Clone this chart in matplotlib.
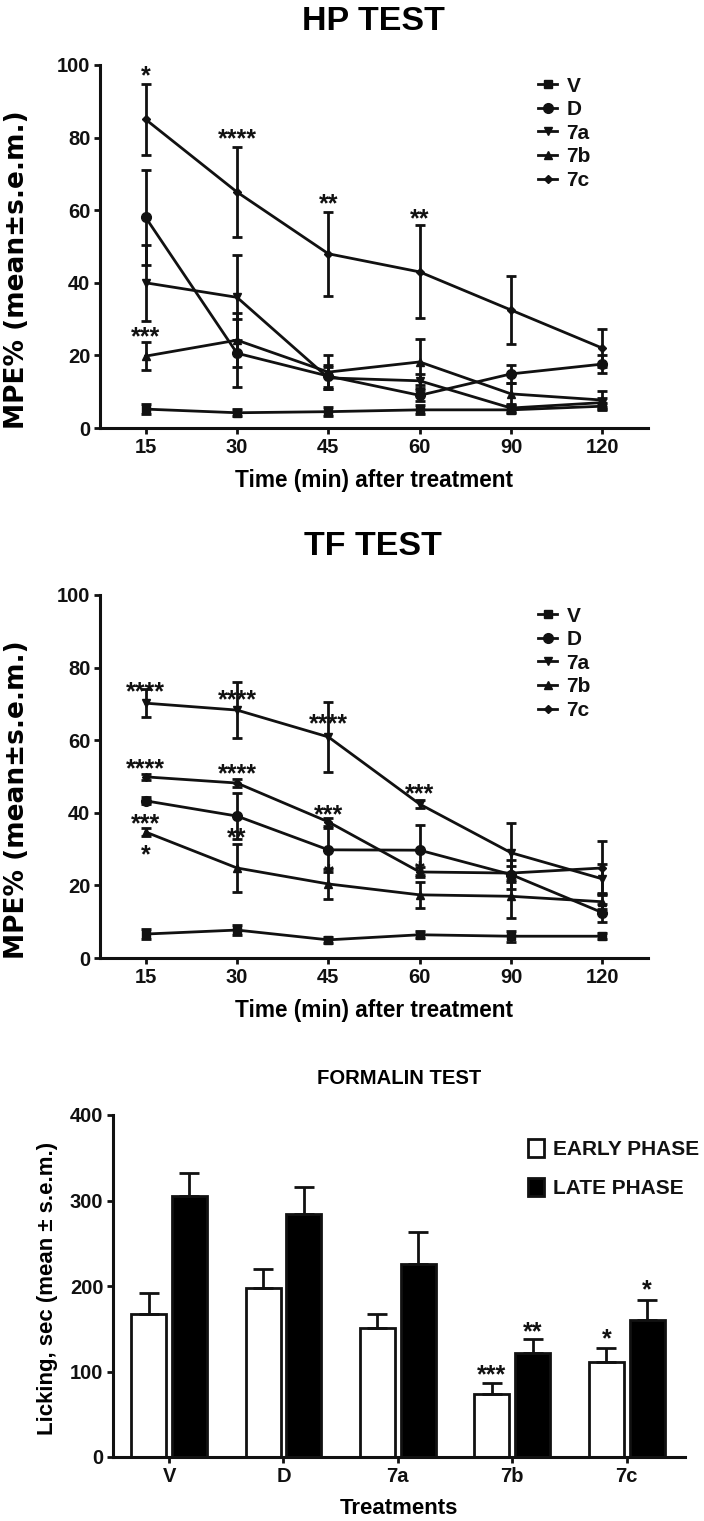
import matplotlib
matplotlib.use('Agg')
import matplotlib.pyplot as plt
import numpy as np

plt.rcParams['font.family'] = ['Liberation Sans', 'DejaVu Sans']
plt.rcParams['font.weight'] = 'bold'

INK = '#111111'

# time points (categorical axis)
tiempos = ['15', '30', '45', '60', '90', '120']
grupos = ['V', 'D', '7a', '7b', '7c']

# HP test, MPE% and s.e.m.
hp_V = [5.2, 4.2, 4.5, 5.0, 5.0, 6.0]
hp_V_err = [1.3, 1.0, 1.2, 1.2, 1.0, 1.0]
hp_D = [58.0, 20.6, 14.3, 9.0, 14.9, 17.6]
hp_D_err = [13.0, 9.3, 3.0, 1.5, 2.5, 2.5]
hp_7a = [40.0, 36.0, 13.8, 13.0, 5.5, 7.0]
hp_7a_err = [10.4, 11.7, 3.0, 2.0, 1.2, 1.2]
hp_7b = [19.8, 24.2, 15.4, 18.2, 9.4, 7.7]
hp_7b_err = [3.9, 7.5, 4.7, 6.3, 3.0, 2.5]
hp_7c = [85.0, 65.0, 48.0, 43.0, 32.5, 22.0]
hp_7c_err = [9.8, 12.4, 11.5, 12.8, 9.3, 5.3]
hp_stars = [(0, 99, '*'), (1, 81.5, '****'), (2, 63.6, '**'), (3, 59.5, '**'),
            (0, 27, '***')]

# TF test, MPE% and s.e.m.
tf_V = [6.6, 7.7, 5.0, 6.4, 6.0, 6.0]
tf_V_err = [1.5, 1.5, 0.8, 1.0, 1.5, 0.8]
tf_D = [43.3, 39.1, 29.8, 29.7, 23.0, 12.5]
tf_D_err = [1.0, 6.4, 6.0, 6.9, 4.0, 2.5]
tf_7a = [70.2, 68.3, 60.9, 42.4, 29.0, 21.8]
tf_7a_err = [3.8, 7.7, 9.7, 1.0, 8.2, 4.0]
tf_7b = [34.7, 24.8, 20.4, 17.4, 17.0, 15.5]
tf_7b_err = [1.0, 6.6, 4.1, 3.5, 6.0, 2.0]
tf_7c = [49.9, 48.2, 37.5, 23.7, 23.4, 24.8]
tf_7c_err = [0.8, 1.0, 1.0, 1.5, 2.0, 7.4]
tf_stars = [(0, 75.2, '****'), (1, 73, '****'), (2, 66.5, '****'), (3, 47, '***'),
            (0, 54, '****'), (1, 52.7, '****'), (2, 41.4, '***'),
            (0, 38.9, '***'), (0, 30.3, '*'), (1, 35, '**'), (2, 25.1, '*'),
            (3, 26, '*')]

# formalin test, licking sec
early = [167, 198, 151, 74, 111]
early_err = [25, 22, 16, 13, 16]
late = [305, 284, 226, 122, 160]
late_err = [27, 32, 37, 16, 24]
form_stars = [(3, -1, 104, '***'), (3, 1, 154, '**'), (4, -1, 146, '*'), (4, 1, 204, '*')]

marcadores = {'V': ('s', 5.5), 'D': ('o', 7), '7a': ('v', 5.5), '7b': ('^', 5.5), '7c': ('D', 4)}

STAR_FS = 18


def estrella(ax, x, y, txt):
    ax.annotate(txt, (x, y), xytext=(0, -0.575 * STAR_FS), textcoords='offset points',
                ha='center', va='baseline', fontsize=STAR_FS, fontweight='bold', color=INK)


def estilo_ejes(ax):
    for s in ['top', 'right']:
        ax.spines[s].set_visible(False)
    for s in ['left', 'bottom']:
        ax.spines[s].set_linewidth(2.2)
        ax.spines[s].set_color(INK)
    ax.tick_params(direction='out', length=4, width=2, colors=INK, labelsize=14.5, pad=3)
    for lab in ax.get_xticklabels() + ax.get_yticklabels():
        lab.set_fontweight('bold')


def leyenda_negrita(leg):
    for t in leg.get_texts():
        t.set_fontweight('bold')
        t.set_color(INK)


def panel_lineas(ax, series, stars):
    x = np.arange(len(tiempos))
    handles, nombres = [], []
    for nombre, vals, errs in series:
        m, ms = marcadores[nombre]
        c = ax.errorbar(x, vals, yerr=errs, color=INK, lw=2, marker=m, ms=ms,
                        elinewidth=2, capsize=3.5, capthick=2, clip_on=False)
        handles.append(c[0])
        nombres.append(nombre)
    ax.set_xlim(-0.5, 5.5)
    ax.set_ylim(0, 100)
    ax.set_xticks(x)
    ax.set_xticklabels(tiempos)
    ax.set_yticks([0, 20, 40, 60, 80, 100])
    estilo_ejes(ax)
    for xi, yi, t in stars:
        estrella(ax, xi, yi, t)
    leg = ax.legend(handles, nombres, loc='upper left', bbox_to_anchor=(0.8, 0.968), frameon=False,
                    handlelength=0.9, handletextpad=0.45, labelspacing=0.22, borderpad=0,
                    borderaxespad=0, prop={'weight': 'bold', 'size': 15})
    leyenda_negrita(leg)


fig = plt.figure(figsize=(7.04, 15.21), dpi=100)
W, H = 704, 1521

ax1 = fig.add_axes([100 / W, 1 - 428 / H, 548 / W, 363 / H])
panel_lineas(ax1, [('V', hp_V, hp_V_err), ('D', hp_D, hp_D_err), ('7a', hp_7a, hp_7a_err),
                   ('7b', hp_7b, hp_7b_err), ('7c', hp_7c, hp_7c_err)], hp_stars)

ax2 = fig.add_axes([100 / W, 1 - 958 / H, 548 / W, 363 / H])
panel_lineas(ax2, [('V', tf_V, tf_V_err), ('D', tf_D, tf_D_err), ('7a', tf_7a, tf_7a_err),
                   ('7b', tf_7b, tf_7b_err), ('7c', tf_7c, tf_7c_err)], tf_stars)

ax3 = fig.add_axes([113 / W, 1 - 1457 / H, 572 / W, 342 / H])
xg = np.arange(len(grupos))
off, ancho = 0.178, 0.306
b1 = ax3.bar(xg - off, early, width=ancho, color='white', edgecolor=INK, lw=2,
             yerr=[np.zeros(len(early)), early_err],
             error_kw=dict(elinewidth=2, capsize=7, capthick=2, ecolor=INK))
b2 = ax3.bar(xg + off, late, width=ancho, color='black', edgecolor=INK, lw=2,
             yerr=[np.zeros(len(late)), late_err],
             error_kw=dict(elinewidth=2, capsize=7, capthick=2, ecolor=INK))
ax3.set_xlim(-0.49, 4.51)
ax3.set_ylim(0, 400)
ax3.set_xticks(xg)
ax3.set_xticklabels(grupos)
ax3.set_yticks([0, 100, 200, 300, 400])
estilo_ejes(ax3)
for gi, lado, yi, t in form_stars:
    estrella(ax3, gi + lado * off, yi, t)
leg3 = ax3.legend([b1, b2], ['EARLY PHASE', 'LATE PHASE'], loc='upper left',
                  bbox_to_anchor=(0.726, 0.93), frameon=False,
                  handlelength=0.75, handleheight=0.95, handletextpad=0.45, labelspacing=0.9,
                  borderpad=0, borderaxespad=0, prop={'weight': 'bold', 'size': 15})
leyenda_negrita(leg3)

# titles and axis labels
fig.text(373 / W, 1 - 21 / H, 'HP TEST', ha='center', va='center', fontsize=24.5, fontweight='bold')
fig.text(373 / W, 1 - 546 / H, 'TF TEST', ha='center', va='center', fontsize=24.5, fontweight='bold')
fig.text(399 / W, 1 - 1078 / H, 'FORMALIN TEST', ha='center', va='center', fontsize=14.6, fontweight='bold')
fig.text(374 / W, 1 - 480 / H, 'Time (min) after treatment', ha='center', va='center',
         fontsize=16.3, fontweight='bold')
fig.text(374 / W, 1 - 1010 / H, 'Time (min) after treatment', ha='center', va='center',
         fontsize=16.3, fontweight='bold')
fig.text(399 / W, 1 - 1508 / H, 'Treatments', ha='center', va='center', fontsize=16, fontweight='bold')
fig.text(17 / W, 1 - 270 / H, 'MPE% (mean±s.e.m.)', rotation=90, ha='center', va='center',
         fontsize=19, fontweight='bold', family='DejaVu Sans')
fig.text(17 / W, 1 - 800 / H, 'MPE% (mean±s.e.m.)', rotation=90, ha='center', va='center',
         fontsize=19, fontweight='bold', family='DejaVu Sans')
fig.text(48 / W, 1 - 1288 / H, 'Licking, sec (mean ± s.e.m.)', rotation=90, ha='center', va='center',
         fontsize=16, fontweight='bold')

fig.savefig('out.png', dpi=100, facecolor='white')
